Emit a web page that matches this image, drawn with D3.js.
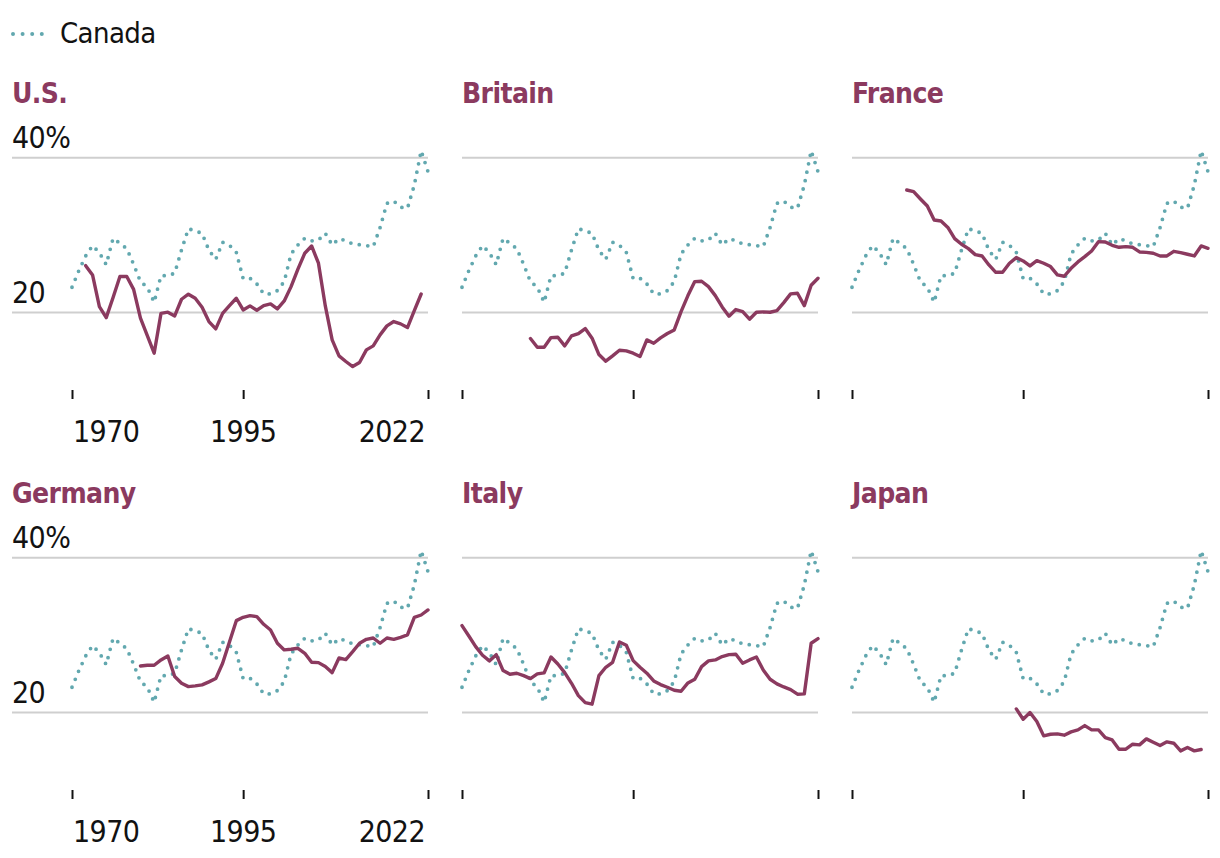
<!DOCTYPE html>
<html>
<head>
<meta charset="utf-8">
<script src="https://cdn.jsdelivr.net/npm/d3@7"></script>
<style>
body{margin:0;background:#fff}
text{font-family:"Liberation Sans Narrow","DejaVu Sans Condensed",sans-serif;letter-spacing:-0.6px}
</style>
</head>
<body>
<svg id="chart" width="1220" height="858"></svg>
<script>
// Canada, shown in every panel
var canadaStart = 1970
var canada = [23.27, 25.42, 27.31, 28.65, 27.74, 26.19, 29.59, 28.95, 28.26, 26.24,
    24.0, 23.27, 21.33, 24.77, 24.77, 25.08, 28.09, 30.84, 30.54, 30.24,
    28.04, 26.88, 29.08, 28.69, 27.78, 24.39, 24.43, 23.70, 22.41, 22.41,
    22.84, 24.0, 27.57, 28.73, 29.59, 29.25, 29.38, 30.24, 28.73, 29.55,
    29.29, 28.86, 28.77, 28.65, 28.5, 30.97, 34.1, 34.4, 33.6, 33.46,
    36.47, 40.9, 38.2]

var usStart = 1972
var us = [26.06, 24.86, 20.77, 19.35, 21.94, 24.65, 24.65, 23.0, 19.27, 17.03,
    14.75, 19.9, 20.05, 19.57, 21.72, 22.37, 21.85, 20.69, 18.84, 17.9,
    19.9, 20.9, 21.85, 20.34, 20.86, 20.3, 20.9, 21.12, 20.47, 21.5,
    23.35, 25.6, 27.66, 28.6, 26.37, 20.86, 16.47, 14.4, 13.68, 13.03,
    13.55, 15.18, 15.7, 17.12, 18.28, 18.84, 18.54, 18.06, 20.26, 22.4]

var britainStart = 1980
var britain = [16.65, 15.53, 15.53, 16.77, 16.82, 15.7, 16.99, 17.29, 17.94, 16.69,
    14.58, 13.72, 14.41, 15.14, 15.05, 14.75, 14.32, 16.47, 16.04, 16.73,
    17.29, 17.76, 20.13, 22.19, 24.0, 24.04, 23.35, 22.19, 20.73, 19.53,
    20.39, 20.13, 19.14, 20.04, 20.09, 20.04, 20.26, 21.29, 22.41, 22.49,
    20.9, 23.53, 24.43]

var franceStart = 1978
var france = [35.83, 35.61, 34.67, 33.76, 31.96, 31.83, 31.0, 29.55, 28.82, 28.26,
    27.48, 27.31, 26.15, 25.2, 25.2, 26.37, 27.1, 26.67, 26.02, 26.71,
    26.37, 25.94, 24.86, 24.69, 25.72, 26.54, 27.22, 27.96, 29.16, 29.12,
    28.69, 28.43, 28.52, 28.43, 27.83, 27.78, 27.66, 27.31, 27.31, 27.91,
    27.74, 27.53, 27.31, 28.6, 28.3]

var germanyStart = 1980
var germany = [26.02, 26.11, 26.11, 26.8, 27.31, 24.65, 23.78, 23.35, 23.44, 23.57,
    23.96, 24.39, 26.37, 29.12, 31.87, 32.3, 32.52, 32.39, 31.4, 30.67,
    28.95, 28.09, 28.17, 28.3, 27.66, 26.49, 26.45, 25.94, 25.16, 27.05,
    26.84, 27.87, 28.95, 29.46, 29.63, 28.95, 29.63, 29.46, 29.72, 30.02,
    32.3, 32.6, 33.25]

var italyStart = 1970
var italy = [31.23, 29.89, 28.52, 27.4, 26.67, 27.48, 25.42, 24.95, 25.08, 24.77,
    24.39, 24.99, 25.12, 27.18, 26.28, 25.16, 23.78, 22.19, 21.29, 21.08,
    24.77, 25.85, 26.49, 29.12, 28.69, 26.71, 25.85, 25.08, 24.09, 23.61,
    23.27, 22.88, 22.75, 23.83, 24.3, 25.94, 26.67, 26.8, 27.23, 27.48,
    27.53, 26.37, 26.8, 27.18, 25.5, 24.3, 23.7, 23.31, 22.97, 22.37,
    22.41, 28.95, 29.55]

var japanStart = 1994
var japan = [20.47, 19.14, 20.0, 18.84, 16.99, 17.2, 17.25, 17.08, 17.51, 17.76,
    18.32, 17.76, 17.76, 16.77, 16.47, 15.27, 15.27, 15.91, 15.83, 16.6,
    16.17, 15.74, 16.22, 16.04, 15.05, 15.48, 15.05, 15.23]

var xTicks = [1970, 1995, 2022]
var yTicks = [20, 40]
var legendLabel = "Canada"

var panels = [
    {name: "U.S.", start: usStart, values: us},
    {name: "Britain", start: britainStart, values: britain},
    {name: "France", start: franceStart, values: france},
    {name: "Germany", start: germanyStart, values: germany},
    {name: "Italy", start: italyStart, values: italy},
    {name: "Japan", start: japanStart, values: japan}
]

var countryColor = "#8b3a5f"
var canadaColor = "#62a8af"

var svg = d3.select("#chart")

function toPoints(start, values){
    return values.map(function(v, i){ return {year: start + i, value: v} })
}

// legend
svg.append("line").attr("x1", 13).attr("x2", 42).attr("y1", 34).attr("y2", 34)
    .style("stroke", canadaColor).style("stroke-width", 4)
    .style("stroke-linecap", "round").style("stroke-dasharray", "0 9.6")
svg.append("text").attr("x", 60).attr("y", 43).text(legendLabel)
    .style("font-size", "29px").style("fill", "#121212")

var colLeft = [72, 462, 852]
var rowTop = [0, 400]
var plotW = 356

panels.forEach(function(p, i){
    var col = i % 3
    var row = Math.floor(i / 3)
    var x0 = colLeft[col]
    var dy = rowTop[row]

    var x = d3.scaleLinear().domain([1970, 2022]).range([x0, x0 + plotW])
    var y = d3.scaleLinear().domain([10, 40]).range([390 + dy, 157.7 + dy])

    var g = svg.append("g").attr("class", "panel")

    // gridlines
    var gridLeft = col == 0 ? 12 : x0
    g.selectAll(".grid").data(yTicks).enter().append("line").attr("class", "grid")
        .attr("x1", gridLeft).attr("x2", x0 + plotW)
        .attr("y1", function(d){ return y(d) }).attr("y2", function(d){ return y(d) })
        .style("stroke", "#cfcfcf").style("stroke-width", 2)

    if(col == 0){
        g.selectAll(".ylab").data(yTicks).enter().append("text").attr("class", "ylab")
            .attr("x", 12).attr("y", function(d){ return y(d) - 9.5 })
            .text(function(d){ return d == 40 ? d + "%" : d })
            .style("font-size", "30px").style("fill", "#121212")
    }

    // x axis ticks
    var axis = d3.axisBottom(x).tickValues(xTicks).tickSize(9).tickFormat("")
    var ax = g.append("g").attr("transform", "translate(0," + y(10) + ")").call(axis)
    ax.select(".domain").remove()
    ax.selectAll(".tick line").style("stroke", "#121212").style("stroke-width", 2)

    if(col == 0){
        g.selectAll(".xlab").data(xTicks).enter().append("text").attr("class", "xlab")
            .attr("x", function(d, j){ return j == 0 ? x(d) + 1 : (j == xTicks.length - 1 ? x(d) - 3 : x(d)) })
            .attr("y", 441.5 + dy)
            .attr("text-anchor", function(d, j){ return j == 0 ? "start" : (j == xTicks.length - 1 ? "end" : "middle") })
            .text(function(d){ return d })
            .style("font-size", "30px").style("fill", "#121212")
    }

    // title
    g.append("text").attr("x", col == 0 ? 12 : x0).attr("y", 103 + dy).text(p.name)
        .style("font-size", "28px").style("font-weight", "bold").style("fill", countryColor)

    var line = d3.line().x(function(d){ return x(d.year) }).y(function(d){ return y(d.value) })

    g.append("path").datum(toPoints(canadaStart, canada)).attr("d", line)
        .style("fill", "none").style("stroke", canadaColor).style("stroke-width", 3.8)
        .style("stroke-linecap", "round").style("stroke-dasharray", "0 8.6")

    g.append("path").datum(toPoints(p.start, p.values)).attr("d", line)
        .style("fill", "none").style("stroke", countryColor).style("stroke-width", 3.4)
        .style("stroke-linejoin", "round").style("stroke-linecap", "round")
})
</script>
</body>
</html>
